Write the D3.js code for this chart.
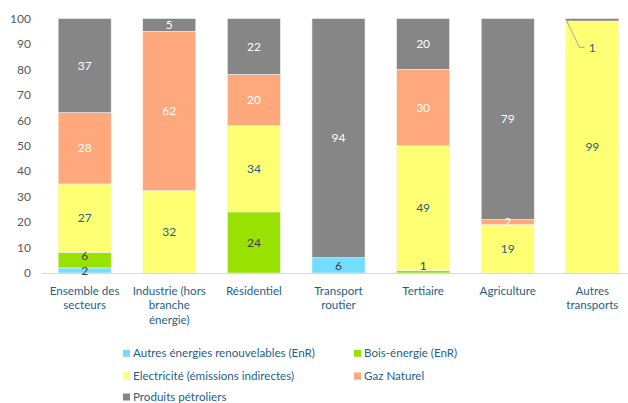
<!DOCTYPE html>
<html>
<head>
<meta charset="utf-8">
<script src="https://cdn.jsdelivr.net/npm/d3@7"></script>
<style>
  body { margin: 0; background: #fff; }
  text { font-family: Lato, "Open Sans", sans-serif; }
</style>
</head>
<body>
<div id="chartDiv"></div>
<script>
// data (shares in %)
const categories = [
    ["Ensemble des", "secteurs"],
    ["Industrie (hors", "branche", "énergie)"],
    ["Résidentiel"],
    ["Transport", "routier"],
    ["Tertiaire"],
    ["Agriculture"],
    ["Autres", "transports"]
];
const seriesNames = ["Autres énergies renouvelables (EnR)", "Bois-énergie (EnR)",
    "Electricité (émissions indirectes)", "Gaz Naturel", "Produits pétroliers"];
const enr      = [2, 0, 0, 6, 0, 0, 0];
const bois     = [6, 0, 24, 0, 1, 0, 0];
const elec     = [27, 32, 34, 0, 49, 19, 99];
const gaz      = [28, 62, 20, 0, 30, 2, 0];
const petrole  = [37, 5, 22, 94, 20, 79, 1];
const yTicks   = [0, 10, 20, 30, 40, 50, 60, 70, 80, 90, 100];

const colors = ["#72DDFF", "#99E100", "#FFFF73", "#FFA87E", "#868686"];
const labelColors = ["#404040", "#404040", "#1F5F86", "#ffffff", "#ffffff"];

const W = 628, H = 403;
const svg = d3.select('#chartDiv').append('svg').attr('width', W).attr('height', H);

const keys = ["enr", "bois", "elec", "gaz", "petrole"];
const rows = categories.map((c, i) => ({
    i: i, enr: enr[i], bois: bois[i], elec: elec[i], gaz: gaz[i], petrole: petrole[i]
}));
const stacked = d3.stack().keys(keys).offset(d3.stackOffsetExpand)(rows);

const x = d3.scaleBand().domain(d3.range(categories.length)).range([42.4, 634.6]).paddingInner(0.373).paddingOuter(0.186);
const y = d3.scaleLinear().domain([0, 100]).range([273, 18.5]);

// y axis labels
svg.append('g').selectAll('text').data(yTicks).enter().append('text')
    .attr('x', 31).attr('y', d => y(d)).attr('dy', '0.35em')
    .attr('text-anchor', 'end').attr('font-size', 12).attr('fill', '#595959')
    .text(d => d);

// bars
const layers = svg.append('g').selectAll('g').data(stacked).enter().append('g')
    .attr('fill', (d, k) => colors[k]);

layers.selectAll('rect').data(d => d).enter().append('rect')
    .attr('x', d => x(d.data.i))
    .attr('width', x.bandwidth())
    .attr('y', d => y(d[1] * 100))
    .attr('height', d => y(d[0] * 100) - y(d[1] * 100))
    .attr('stroke', '#f2f2f2').attr('stroke-width', 0.6);

// baseline
svg.append('line').attr('x1', 42).attr('x2', W).attr('y1', 273.5).attr('y2', 273.5)
    .attr('stroke', '#d9d9d9').attr('stroke-width', 1);

// value labels (bottom-up per bar, pushed up when they would collide)
const lastY = categories.map(() => Infinity);
stacked.forEach((layer, k) => {
    layer.forEach(d => {
        const v = d.data[keys[k]];
        if (!v) return;
        const i = d.data.i;
        const cx = x(i) + x.bandwidth() / 2;
        let cy = y((d[0] + d[1]) / 2 * 100);
        if (v < 2 && k === 4) {
            // small slice on top: label outside with a leader line
            const x0 = x(i), y0 = y(d[1] * 100) + 0.5;
            svg.append('polyline')
                .attr('points', `${x0},${y0} ${x0 + 13.6},47.3 ${x0 + 18.6},47.3`)
                .attr('fill', 'none').attr('stroke', '#a6a6a6').attr('stroke-width', 1);
            svg.append('text').attr('x', x0 + 26.5).attr('y', 47.3).attr('dy', '0.35em')
                .attr('text-anchor', 'middle').attr('font-size', 12).attr('fill', '#1F5F86')
                .text(v);
            return;
        }
        if (v < 2 && d[0] === 0) cy = y(d[0] * 100) - 7;
        if (cy > lastY[i] - 15) cy = lastY[i] - 15;
        lastY[i] = cy;
        svg.append('text').attr('x', cx).attr('y', cy).attr('dy', '0.35em')
            .attr('text-anchor', 'middle').attr('font-size', 12).attr('fill', labelColors[k])
            .text(v);
    });
});

// category labels
const catG = svg.append('g');
categories.forEach((lines, i) => {
    const t = catG.append('text').attr('text-anchor', 'middle')
        .attr('font-size', 11.6).attr('fill', '#1F5F86');
    lines.forEach((s, j) => {
        t.append('tspan').attr('x', x(i) + x.bandwidth() / 2)
            .attr('y', 290.5 + j * 14.7).attr('dy', '0.35em').text(s);
    });
});

// legend
const legendPos = [[123, 353.3], [354, 353.3], [123, 376], [354, 376], [123, 397]];
const leg = svg.append('g').selectAll('g').data(seriesNames).enter().append('g')
    .attr('transform', (d, k) => `translate(${legendPos[k][0]},${legendPos[k][1]})`);
leg.append('rect').attr('x', 0).attr('y', -3.5).attr('width', 7).attr('height', 7)
    .attr('fill', (d, k) => colors[k]);
leg.append('text').attr('x', 10).attr('y', 0).attr('dy', '0.35em')
    .attr('font-size', 11.6).attr('fill', '#1F5F86').text(d => d);
</script>
</body>
</html>
